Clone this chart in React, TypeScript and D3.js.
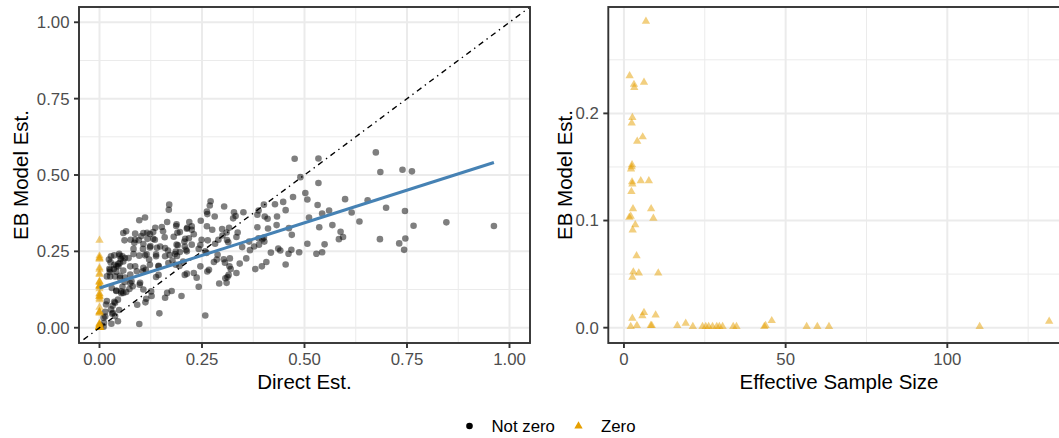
import React from 'react';
import * as d3 from 'd3';

// Non-zero group: [Direct Est., EB Model Est.]
const notZeroPoints: [number, number][] = [
  [0.476,0.553],[0.534,0.554],[0.674,0.574],[0.685,0.510],[0.739,0.517],[0.762,0.512],[0.490,0.493],[0.534,0.474],[0.502,0.441],[0.507,0.420],[0.472,0.428],[0.599,0.421],[0.654,0.417],[0.532,0.402],[0.560,0.384],[0.543,0.374],[0.615,0.377],[0.699,0.393],[0.745,0.382],[0.634,0.348],[0.511,0.361],[0.846,0.345],[0.962,0.333],[0.766,0.334],[0.568,0.336],[0.536,0.329],[0.588,0.314],[0.584,0.290],[0.594,0.297],[0.684,0.290],[0.746,0.292],[0.731,0.276],[0.743,0.255],[0.549,0.273],[0.507,0.275],[0.529,0.242],[0.543,0.247],[0.487,0.247],[0.461,0.242],[0.469,0.304],[0.462,0.326],[0.454,0.385],[0.448,0.412],[0.428,0.404],[0.433,0.364],[0.432,0.336],[0.411,0.325],[0.410,0.357],[0.401,0.403],[0.388,0.384],[0.385,0.370],[0.403,0.364],[0.385,0.329],[0.388,0.293],[0.397,0.290],[0.401,0.295],[0.418,0.246],[0.436,0.259],[0.441,0.253],[0.454,0.207],[0.407,0.215],[0.396,0.201],[0.380,0.192],[0.365,0.282],[0.348,0.264],[0.367,0.254],[0.358,0.227],[0.342,0.210],[0.334,0.179],[0.315,0.173],[0.307,0.162],[0.292,0.145],[0.310,0.147],[0.351,0.378],[0.328,0.378],[0.332,0.366],[0.326,0.358],[0.304,0.397],[0.271,0.414],[0.269,0.400],[0.262,0.380],[0.263,0.372],[0.281,0.364],[0.247,0.350],[0.262,0.332],[0.275,0.321],[0.299,0.323],[0.316,0.327],[0.334,0.297],[0.311,0.287],[0.300,0.302],[0.282,0.275],[0.264,0.286],[0.249,0.288],[0.246,0.271],[0.258,0.250],[0.242,0.258],[0.261,0.245],[0.279,0.215],[0.303,0.224],[0.306,0.213],[0.317,0.201],[0.318,0.227],[0.263,0.184],[0.246,0.201],[0.237,0.164],[0.242,0.134],[0.258,0.040],[0.230,0.179],[0.225,0.321],[0.225,0.332],[0.219,0.346],[0.214,0.327],[0.230,0.306],[0.209,0.291],[0.208,0.266],[0.211,0.255],[0.196,0.248],[0.186,0.249],[0.189,0.235],[0.187,0.333],[0.190,0.311],[0.181,0.298],[0.191,0.270],[0.170,0.403],[0.169,0.386],[0.165,0.346],[0.159,0.296],[0.155,0.316],[0.167,0.253],[0.171,0.238],[0.178,0.220],[0.195,0.202],[0.208,0.173],[0.213,0.177],[0.200,0.104],[0.176,0.120],[0.165,0.114],[0.146,0.047],[0.152,0.330],[0.136,0.327],[0.135,0.288],[0.148,0.266],[0.140,0.262],[0.138,0.240],[0.144,0.201],[0.144,0.173],[0.138,0.166],[0.131,0.313],[0.124,0.267],[0.117,0.291],[0.116,0.311],[0.111,0.361],[0.097,0.352],[0.102,0.300],[0.106,0.258],[0.115,0.240],[0.121,0.223],[0.113,0.190],[0.106,0.185],[0.127,0.104],[0.112,0.083],[0.114,0.095],[0.092,0.075],[0.097,0.012],[0.098,0.141],[0.087,0.288],[0.085,0.278],[0.083,0.258],[0.087,0.201],[0.075,0.146],[0.073,0.127],[0.078,0.152],[0.065,0.316],[0.061,0.286],[0.062,0.228],[0.056,0.234],[0.056,0.134],[0.058,0.114],[0.062,0.164],[0.050,0.213],[0.048,0.242],[0.046,0.209],[0.050,0.170],[0.053,0.113],[0.045,0.092],[0.048,0.058],[0.045,0.021],[0.038,0.168],[0.035,0.192],[0.027,0.214],[0.025,0.182],[0.030,0.130],[0.041,0.120],[0.032,0.072],[0.038,0.082],[0.031,0.046],[0.029,0.013],[0.018,0.087],[0.014,0.037],[0.010,0.033],[0.010,0.003],[0.023,0.223],[0.024,0.193],[0.018,0.168],[0.049,0.236],[0.041,0.201],[0.058,0.310],[0.076,0.288],[0.096,0.286],[0.107,0.310],
  [0.188,0.339],[0.087,0.308],[0.123,0.307],[0.131,0.291],[0.196,0.313],[0.213,0.324],[0.107,0.274],[0.123,0.263],[0.160,0.261],[0.188,0.272],[0.207,0.282],[0.028,0.234],[0.036,0.237],[0.052,0.226],[0.058,0.217],[0.036,0.206],[0.046,0.201],[0.071,0.228],[0.083,0.241],[0.097,0.236],[0.111,0.237],[0.138,0.234],[0.160,0.234],[0.184,0.241],[0.213,0.250],[0.026,0.190],[0.041,0.183],[0.058,0.187],[0.075,0.201],[0.075,0.174],[0.091,0.185],[0.107,0.196],[0.123,0.206],[0.144,0.203],[0.168,0.212],[0.186,0.206],[0.204,0.217],[0.026,0.168],[0.050,0.163],[0.061,0.150],[0.099,0.147],[0.041,0.122],[0.053,0.119],[0.065,0.117],[0.081,0.136],[0.107,0.125],[0.126,0.119],[0.160,0.098],[0.036,0.085],[0.016,0.076],[0.028,0.060],[0.014,0.052],[0.033,0.049],[0.038,0.038],[0.011,0.016],[0.003,0.008],
  [0.310,0.312],[0.337,0.312],[0.290,0.288],[0.314,0.280],[0.218,0.293],[0.225,0.272],[0.288,0.239],[0.286,0.223],[0.377,0.266],[0.389,0.272],[0.402,0.282],[0.468,0.255],[0.320,0.192],[0.312,0.166],[0.267,0.190]
];

// Zero group: effective sample size and EB estimate (Direct Est. = 0)
const zeroEss: number[] = [6.8,1.75,6.2,3.1,3.2,2.6,2.4,5.8,4.1,2.5,2.4,2.2,2.5,2.6,5.2,7.7,2.3,2.8,8.4,1.65,2.1,9.1,3.5,2.7,3.9,2.9,4.6,2.6,10.6,6.2,5.7,2.6,9.8,2.1,4.0,8.3,8.6,16.5,19.1,21.3,24.3,25.3,26.2,27.4,28.7,29.5,30.5,33.8,34.8,43.4,43.8,45.7,56.5,59.8,63.4,110,131.5];
const zeroEb: number[] = [0.286,0.235,0.229,0.227,0.224,0.196,0.191,0.178,0.174,0.152,0.150,0.148,0.136,0.134,0.137,0.137,0.127,0.111,0.111,0.103,0.104,0.102,0.096,0.091,0.067,0.052,0.051,0.047,0.051,0.014,0.011,0.0087,0.0117,0.001,0.002,0.002,0.002,0.002,0.004,0.001,0.001,0.001,0.001,0.001,0.001,0.001,0.001,0.001,0.001,0.001,0.002,0.0065,0.001,0.001,0.001,0.001,0.006];

// Linear fit line
const fitX = [0, 0.962];
const fitY = [0.13, 0.541];

const leftTicks = [0, 0.25, 0.5, 0.75, 1];
const leftTickLabels = ['0.00', '0.25', '0.50', '0.75', '1.00'];
const leftMinor = [0.125, 0.375, 0.625, 0.875];
const rightXTicks = [0, 50, 100];
const rightXMinor = [25, 75, 125];
const rightYTicks = [0, 0.1, 0.2];
const rightYTickLabels = ['0.0', '0.1', '0.2'];
const rightYMinor = [0.05, 0.15, 0.25];
const legendLabels = ['Not zero', 'Zero'];

const FONT = '"Liberation Sans", Arial, Helvetica, sans-serif';
const ORANGE = '#E69F00';
const GRID = '#EBEBEB';
const BORDER = '#333333';
const TICKTXT = '#4D4D4D';

export default function App() {
  const L = { x0: 79, x1: 530, y0: 7, y1: 343 };
  const R = { x0: 608.3, x1: 1070.2, y0: 7, y1: 343 };

  const lx = d3.scaleLinear().domain([-0.05, 1.05]).range([L.x0, L.x1]);
  const ly = d3.scaleLinear().domain([-0.05, 1.05]).range([L.y1, L.y0]);
  const rx = d3.scaleLinear().domain([-4.84, 138]).range([R.x0, R.x1]);
  const ry = d3.scaleLinear().domain([-0.0143, 0.2993]).range([R.y1, R.y0]);

  const tri = d3.symbol().type(d3.symbolTriangle).size(30)() as string;
  const triLegend = d3.symbol().type(d3.symbolTriangle).size(30)() as string;
  const line = d3.line<number>().x((_, i) => lx(fitX[i])).y((_, i) => ly(fitY[i]));

  const tickFs = 16.8;
  const titleFs = 20.5;

  return (
    <svg width={1059} height={438} style={{ position: 'absolute', left: 0, top: 0, background: '#fff' }}
      fontFamily={FONT}>
      <defs>
        <clipPath id="clipL"><rect x={L.x0} y={L.y0} width={L.x1 - L.x0} height={L.y1 - L.y0} /></clipPath>
        <clipPath id="clipR"><rect x={R.x0} y={R.y0} width={R.x1 - R.x0} height={R.y1 - R.y0} /></clipPath>
      </defs>
      <rect x={0} y={0} width={1059} height={438} fill="#fff" />

      {/* LEFT PANEL */}
      <g clipPath="url(#clipL)">
        {leftMinor.map(v => (
          <g key={'lm' + v}>
            <line x1={lx(v)} x2={lx(v)} y1={L.y0} y2={L.y1} stroke={GRID} strokeWidth={1} />
            <line x1={L.x0} x2={L.x1} y1={ly(v)} y2={ly(v)} stroke={GRID} strokeWidth={1} />
          </g>
        ))}
        {leftTicks.map(v => (
          <g key={'lM' + v}>
            <line x1={lx(v)} x2={lx(v)} y1={L.y0} y2={L.y1} stroke={GRID} strokeWidth={2} />
            <line x1={L.x0} x2={L.x1} y1={ly(v)} y2={ly(v)} stroke={GRID} strokeWidth={2} />
          </g>
        ))}
        {notZeroPoints.map((p, i) => (
          <circle key={'nz' + i} cx={lx(p[0])} cy={ly(p[1])} r={3.3} fill="#000" fillOpacity={0.5} />
        ))}
        {zeroEb.map((v, i) => (
          <path key={'zl' + i} d={tri} transform={`translate(${lx(0)},${ly(v)})`} fill={ORANGE} fillOpacity={0.5} />
        ))}
        <line x1={lx(-0.05)} y1={ly(-0.05)} x2={lx(1.05)} y2={ly(1.05)} stroke="#000" strokeWidth={1.4}
          strokeDasharray="1.4 4.2 5.6 4.2" />
        <path d={line(fitX) || ''} fill="none" stroke="#4682B4" strokeWidth={3} />
      </g>
      <rect x={L.x0} y={L.y0} width={L.x1 - L.x0} height={L.y1 - L.y0} fill="none" stroke={BORDER} strokeWidth={1.9} />
      {leftTicks.map((v, i) => (
        <g key={'lt' + v}>
          <line x1={L.x0 - 5} x2={L.x0} y1={ly(v)} y2={ly(v)} stroke={BORDER} strokeWidth={1.9} />
          <text x={L.x0 - 9.5} y={ly(v)} dy="0.35em" textAnchor="end" fontSize={tickFs} fill={TICKTXT}>{leftTickLabels[i]}</text>
          <line x1={lx(v)} x2={lx(v)} y1={L.y1} y2={L.y1 + 5} stroke={BORDER} strokeWidth={1.9} />
          <text x={lx(v)} y={L.y1 + 21.5} textAnchor="middle" fontSize={tickFs} fill={TICKTXT}>{leftTickLabels[i]}</text>
        </g>
      ))}
      <text x={(L.x0 + L.x1) / 2} y={389} textAnchor="middle" fontSize={titleFs} fill="#000">Direct Est.</text>
      <text transform={`translate(27.5,${(L.y0 + L.y1) / 2}) rotate(-90)`} textAnchor="middle" fontSize={titleFs} fill="#000">EB Model Est.</text>

      {/* RIGHT PANEL */}
      <g clipPath="url(#clipR)">
        {rightXMinor.map(v => (
          <line key={'rxm' + v} x1={rx(v)} x2={rx(v)} y1={R.y0} y2={R.y1} stroke={GRID} strokeWidth={1} />
        ))}
        {rightYMinor.map(v => (
          <line key={'rym' + v} x1={R.x0} x2={R.x1} y1={ry(v)} y2={ry(v)} stroke={GRID} strokeWidth={1} />
        ))}
        {rightXTicks.map(v => (
          <line key={'rxM' + v} x1={rx(v)} x2={rx(v)} y1={R.y0} y2={R.y1} stroke={GRID} strokeWidth={2} />
        ))}
        {rightYTicks.map(v => (
          <line key={'ryM' + v} x1={R.x0} x2={R.x1} y1={ry(v)} y2={ry(v)} stroke={GRID} strokeWidth={2} />
        ))}
        {zeroEb.map((v, i) => (
          <path key={'zr' + i} d={tri} transform={`translate(${rx(zeroEss[i])},${ry(v)})`} fill={ORANGE} fillOpacity={0.5} />
        ))}
      </g>
      <rect x={R.x0} y={R.y0} width={R.x1 - R.x0} height={R.y1 - R.y0} fill="none" stroke={BORDER} strokeWidth={1.9} />
      {rightYTicks.map((v, i) => (
        <g key={'ryt' + v}>
          <line x1={R.x0 - 5} x2={R.x0} y1={ry(v)} y2={ry(v)} stroke={BORDER} strokeWidth={1.9} />
          <text x={R.x0 - 9.5} y={ry(v)} dy="0.35em" textAnchor="end" fontSize={tickFs} fill={TICKTXT}>{rightYTickLabels[i]}</text>
        </g>
      ))}
      {rightXTicks.map(v => (
        <g key={'rxt' + v}>
          <line x1={rx(v)} x2={rx(v)} y1={R.y1} y2={R.y1 + 5} stroke={BORDER} strokeWidth={1.9} />
          <text x={rx(v)} y={R.y1 + 21.5} textAnchor="middle" fontSize={tickFs} fill={TICKTXT}>{String(v)}</text>
        </g>
      ))}
      <text x={839} y={389} textAnchor="middle" fontSize={titleFs} fill="#000">Effective Sample Size</text>
      <text transform={`translate(572,${(R.y0 + R.y1) / 2}) rotate(-90)`} textAnchor="middle" fontSize={titleFs} fill="#000">EB Model Est.</text>

      {/* LEGEND */}
      <circle cx={469.5} cy={426} r={3.3} fill="#000" />
      <text x={491.5} y={432} fontSize={tickFs} fill="#000">{legendLabels[0]}</text>
      <path d={triLegend} transform="translate(578.5,426)" fill={ORANGE} />
      <text x={601} y={432} fontSize={tickFs} fill="#000">{legendLabels[1]}</text>
    </svg>
  );
}
